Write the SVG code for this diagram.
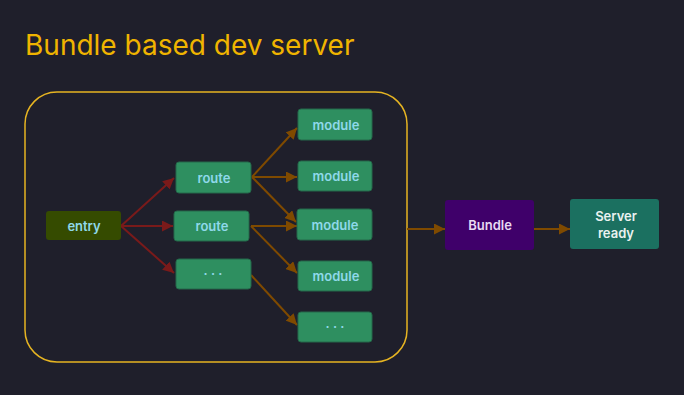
<svg xmlns="http://www.w3.org/2000/svg" width="684" height="395" viewBox="0 0 684 395">
<defs>
<style>
.t{font-family:Inter,"Noto Sans",sans-serif;font-size:13px;font-weight:600;text-anchor:middle;dominant-baseline:central}
.g rect{fill:#2e8f60;stroke:#24684a;stroke-width:1}
.g text{fill:#8fd9ea}
.r{stroke:#7a1a1a;stroke-width:2;fill:none;marker-end:url(#mr)}
.b{stroke:#7f4a00;stroke-width:2;fill:none;marker-end:url(#mb)}
</style>
<marker id="mr" viewBox="0 0 10 10" refX="10" refY="5" markerWidth="5.5" markerHeight="5.5" orient="auto" markerUnits="strokeWidth"><path d="M0,0L10,5L0,10z" fill="#7a1a1a"/></marker>
<marker id="mb" viewBox="0 0 10 10" refX="10" refY="5" markerWidth="5.5" markerHeight="5.5" orient="auto" markerUnits="strokeWidth"><path d="M0,0L10,5L0,10z" fill="#7f4a00"/></marker>
</defs>
<rect width="684" height="395" fill="#1f1f2b"/>
<text x="25" y="55" font-family="Inter,'Noto Sans',sans-serif" font-size="28" fill="#f0b400">Bundle based dev server</text>
<rect id="container" x="25" y="92" width="382" height="270" rx="32" fill="none" stroke="#e6b422" stroke-width="1.5"/>
<g id="connectors">
<path class="r" d="M121,226L174,178"/>
<path class="r" d="M121,226L173,226"/>
<path class="r" d="M121,226L174,273"/>
<path class="b" d="M252,177L297,128"/>
<path class="b" d="M252,177L297,177"/>
<path class="b" d="M252,177L296,222"/>
<path class="b" d="M251,226L297,226"/>
<path class="b" d="M251,226L297,273"/>
<path class="b" d="M251,275L297,325"/>
<path class="b" d="M407,229L445,229"/>
<path class="b" d="M534,229L570,229"/>
</g>
<g id="entry"><rect x="46" y="211" width="75" height="29" rx="3" fill="#354b00"/><text class="t" x="84" y="225.5" fill="#8fd9ea">entry</text></g>
<g id="route1" class="g"><rect x="176" y="162" width="75" height="31" rx="3"/><text class="t" x="214" y="177.5">route</text></g>
<g id="route2" class="g"><rect x="174" y="211" width="75" height="30" rx="3"/><text class="t" x="212" y="226">route</text></g>
<g id="route3" class="g"><rect x="176" y="259" width="75" height="30" rx="3"/><text class="t" x="213" y="273">· · ·</text></g>
<g id="module1" class="g"><rect x="298" y="109" width="74" height="31" rx="3"/><text class="t" x="336" y="124.5">module</text></g>
<g id="module2" class="g"><rect x="298" y="161" width="74" height="30" rx="3"/><text class="t" x="336" y="176">module</text></g>
<g id="module3" class="g"><rect x="297" y="209" width="75" height="31" rx="3"/><text class="t" x="335" y="224.5">module</text></g>
<g id="module4" class="g"><rect x="298" y="261" width="74" height="30" rx="3"/><text class="t" x="336" y="276">module</text></g>
<g id="module5" class="g"><rect x="298" y="312" width="74" height="30" rx="3"/><text class="t" x="335" y="326">· · ·</text></g>
<g id="bundle"><rect x="445" y="200" width="89" height="50" rx="3" fill="#3f006a"/><text class="t" x="490" y="225" fill="#e8daf2">Bundle</text></g>
<g id="server"><rect x="570" y="199" width="89" height="50" rx="3" fill="#1b7060"/><text class="t" x="616" y="216" fill="#eaf2f0">Server</text><text class="t" x="616" y="233" fill="#eaf2f0">ready</text></g>
</svg>
